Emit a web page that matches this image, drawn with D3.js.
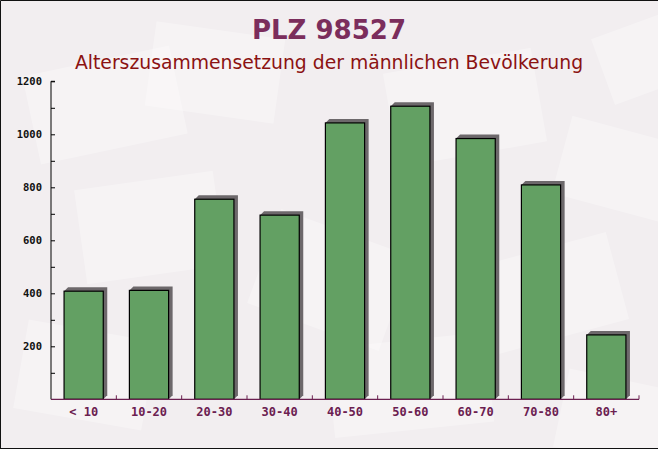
<!DOCTYPE html>
<html><head><meta charset="utf-8">
<script src="https://cdn.jsdelivr.net/npm/d3@7"></script>
<style>body{margin:0;padding:0;background:#fff}svg{display:block}</style>
</head><body>
<script>
const categories = ["< 10","10-20","20-30","30-40","40-50","50-60","60-70","70-80","80+"];
const values = [408, 411, 755, 695, 1043, 1106, 984, 809, 243];
const yTicks = [200, 400, 600, 800, 1000, 1200];
const title = "PLZ 98527";
const subtitle = "Alterszusammensetzung der männlichen Bevölkerung";

const W = 658, H = 449;
const margin = {left: 51, right: 19, top: 81.3, bottom: 49.7};
const svg = d3.select("body").append("svg").attr("width", W).attr("height", H);

// background
svg.append("rect").attr("width", W).attr("height", H).attr("fill", "#f2eef0");
const env = [[30,60,150,90,-12],[150,30,130,85,8],[390,60,150,95,-10],[560,130,120,80,15],[80,180,140,95,-8],[260,230,140,100,20],[470,250,150,90,-15],[20,330,130,90,10],[330,340,160,90,-6],[560,380,120,80,12],[600,20,100,70,-20]];
svg.append("g").selectAll("rect").data(env).join("rect")
  .attr("x", d=>d[0]).attr("y", d=>d[1]).attr("width", d=>d[2]).attr("height", d=>d[3])
  .attr("transform", d=>`rotate(${d[4]},${d[0]+d[2]/2},${d[1]+d[3]/2})`)
  .attr("fill", "#ffffff").attr("opacity", 0.3);

// border
svg.append("path").attr("d", `M0.5,${H-0.5}V0.5H${W}M0,${H-0.5}H${W}`).attr("fill","none").attr("stroke","#111").attr("stroke-width",1);

const x = d3.scaleBand().domain(categories).range([margin.left, W - margin.right]).paddingInner(0.4).paddingOuter(0.2);
const y = d3.scaleLinear().domain([0, 1200]).range([H - margin.bottom, margin.top]);

// titles
svg.append("text").attr("x", W/2).attr("y", 39).attr("text-anchor","middle")
  .attr("font-family","'DejaVu Sans', sans-serif").attr("font-weight","bold").attr("font-size",26)
  .attr("fill","#7b2d5c").text(title);
svg.append("text").attr("x", W/2).attr("y", 69).attr("text-anchor","middle")
  .attr("font-family","'DejaVu Sans', sans-serif").attr("font-size",18.8)
  .attr("fill","#8b1212").text(subtitle);

// bars
const d0 = 4;
const g = svg.append("g");
const y0 = y(0);
g.selectAll("path.shadow").data(categories).join("path").attr("class","shadow")
  .attr("d", (c,i) => {
    const bx = x(c), bw = x.bandwidth(), by = y(values[i]);
    return `M${bx},${by}L${bx+d0},${by-d0}H${bx+bw+d0}V${y0-d0}L${bx+bw},${y0}Z`;
  })
  .attr("fill", "#5e595c").attr("opacity", 0.9);
g.selectAll("rect.bar").data(categories).join("rect").attr("class","bar")
  .attr("x", c => x(c)).attr("width", x.bandwidth())
  .attr("y", (c,i) => y(values[i])).attr("height", (c,i) => y0 - y(values[i]))
  .attr("fill", "#63a063").attr("stroke", "#000").attr("stroke-width", 1.2);

// y axis
const yAxis = d3.axisRight(y).tickValues(d3.range(100, 1201, 100)).tickSize(4).tickFormat("");
const ya = svg.append("g").attr("transform", `translate(${margin.left},0)`).call(yAxis);
ya.select(".domain").attr("stroke","#000").attr("d", `M4,${margin.top}H0V${y0}`);
ya.selectAll(".tick line").attr("stroke","#000");
svg.append("g").selectAll("text").data(yTicks).join("text")
  .attr("x", 42).attr("y", d => y(d) + 3.5).attr("text-anchor","end")
  .attr("font-family","'DejaVu Sans Mono', monospace").attr("font-weight","bold").attr("font-size",10.5)
  .attr("fill","#111").text(d => d);

// x axis
const xa = svg.append("g").attr("transform", `translate(0,${y0})`);
xa.append("line").attr("x1", margin.left).attr("x2", W - margin.right).attr("stroke", "#6b2050").attr("stroke-width", 1.2);
const bounds = categories.map(c => x(c) - x.step()*x.paddingInner()/2).slice(1).concat([W - margin.right]);
xa.selectAll("line.tk").data(bounds).join("line").attr("class","tk")
  .attr("x1", d=>d).attr("x2", d=>d).attr("y1", 0).attr("y2", -4).attr("stroke","#6b2050");
xa.selectAll("text").data(categories).join("text")
  .attr("x", c => x(c) + x.bandwidth()/2).attr("y", 17).attr("text-anchor","middle")
  .attr("font-family","'DejaVu Sans Mono', monospace").attr("font-weight","bold").attr("font-size",12)
  .attr("fill","#6b2050").text(c => c);
</script>
</body></html>
